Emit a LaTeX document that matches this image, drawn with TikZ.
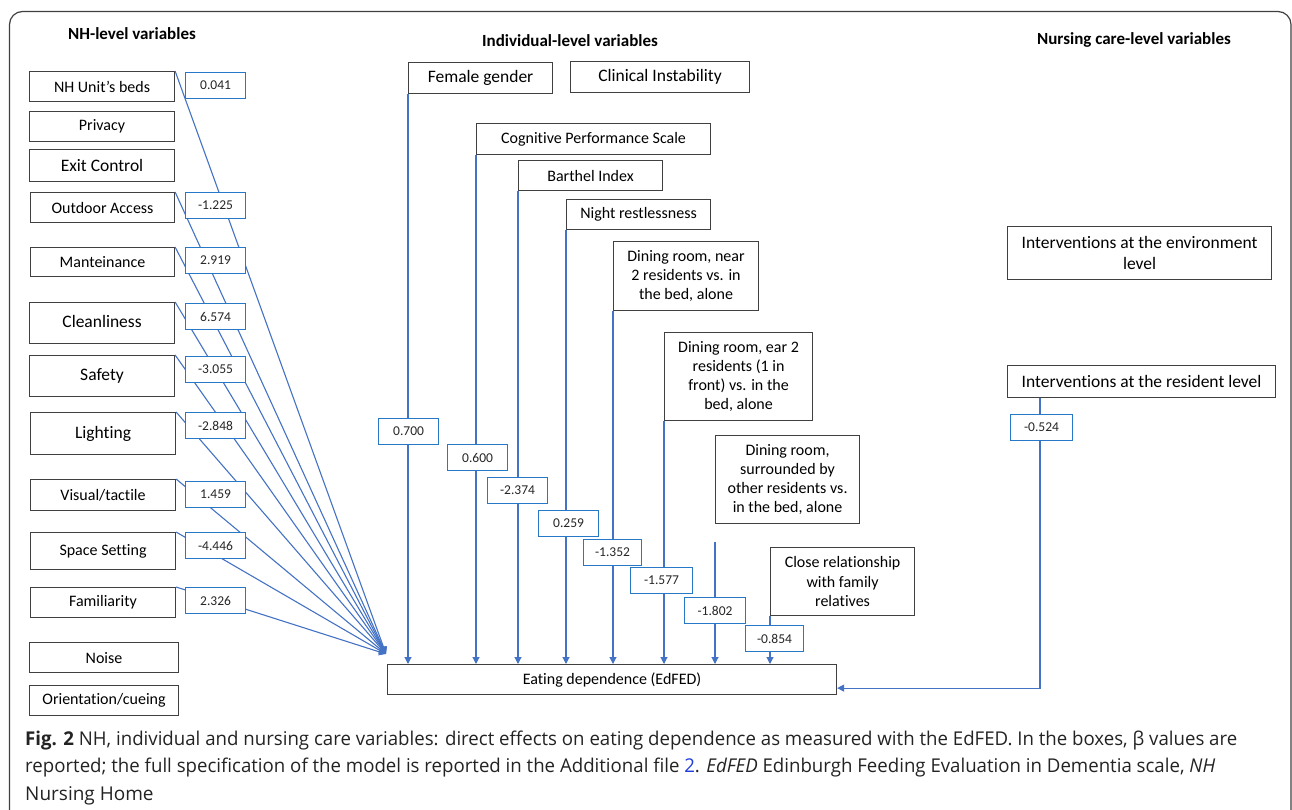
\documentclass[tikz,border=0pt]{standalone}
\usepackage{fontspec}
\usepackage{graphicx}
\setmainfont{Carlito}[Ligatures=NoCommon]
\newfontfamily\capfont{Open Sans}
\usetikzlibrary{arrows.meta,calc}
\definecolor{boxline}{RGB}{64,64,64}
\definecolor{valline}{RGB}{40,120,200}
\definecolor{conncol}{RGB}{68,114,196}
\definecolor{linkblue}{RGB}{30,60,220}
\definecolor{captext}{RGB}{35,35,35}
\newcommand\bx[5]{\node[vbox,anchor=north west,minimum width=#3pt,minimum height=#4pt] (#1) at (#2) {#5};}
\newcommand\bxb[5]{\node[vbox,bigtxt,anchor=north west,minimum width=#3pt,minimum height=#4pt] (#1) at (#2) {#5};}
\newcommand\vb[4]{\node[valbox,minimum width=#3pt] (#1) at (#2) {#4};}
\begin{document}
\begin{tikzpicture}[x=1pt,y=-1pt,
  vbox/.style={draw=boxline,line width=1.1pt,fill=white,inner sep=0pt,font=\fontsize{16}{19.3}\selectfont,align=center,text=black},
  bigtxt/.style={font=\fontsize{17.5}{21}\selectfont},
  valbox/.style={draw=valline,line width=1.1pt,fill=white,inner sep=0pt,font=\fontsize{13.5}{16}\selectfont,minimum height=26pt,anchor=north west,text=black!85},
  arr/.style={draw=conncol,line width=1.1pt,-{Triangle[width=7pt,length=7pt]}},
  head/.style={font=\fontsize{17}{20}\selectfont\bfseries,anchor=base,inner sep=0pt},
  capline/.style={anchor=base west,inner sep=0pt,text=captext,font=\capfont\fontsize{19}{22}\selectfont}
]
\useasboundingbox (0,0) rectangle (1292,810);
\draw[boxline,line width=1.2pt,rounded corners=13pt] (9.5,810) -- (9.5,11.5) -- (1291,11.5) -- (1291,810);

% headings
\node[head] (hnh) at (132,40) {NH-level variables};
\node[head] (hind) at (570,47) {Individual-level variables};
\node[head] (hnc) at (1134,45) {Nursing care-level variables};

% NH-level boxes
\bx{beds}{29,71}{145}{30}{NH Unit’s beds}
\bx{privacy}{29,111}{145}{30}{Privacy}
\bxb{exit}{29,149}{145}{32}{Exit Control}
\bx{outdoor}{30,192}{144}{30}{Outdoor Access}
\bx{mant}{30,247}{144}{29}{Manteinance}
\bxb{clean}{29,302}{145}{41}{\raisebox{3pt}{Cleanliness}}
\bxb{safety}{29,355}{145}{41}{\raisebox{3pt}{Safety}}
\bxb{light}{30,412}{145}{42}{\raisebox{-4pt}{Lighting}}
\bx{visual}{30,479}{145}{31}{Visual/tactile}
\bx{space}{30,532}{145}{37}{Space Setting}
\bx{famil}{30,587}{145}{30}{Familiarity}
\bx{noise}{29,642}{149}{30}{Noise}
\bx{orient}{29,685}{149}{30}{Orientation/cueing}

% outcome
\bx{edfed}{387,664}{449}{30}{Eating dependence (EdFED)}
\coordinate (conv) at ($(edfed.north west)+(-1,-10)$);

% individual-level boxes
\bxb{female}{408,62}{144}{31}{Female gender}
\bxb{clinical}{570,61}{179}{31}{Clinical Instability}
\bx{cps}{476,123}{234}{31}{Cognitive Performance Scale}
\bx{barthel}{518,160}{144}{30}{Barthel Index}
\bx{night}{566,199}{144}{30}{Night restlessness}
\bx{dnear}{613,241}{145}{69}{Dining room, near\\2 residents vs. in\\the bed, alone}
\bx{dear}{664,332}{148}{88}{Dining room, ear 2\\residents (1 in\\front) vs. in the\\bed, alone}
\bx{dsurr}{715,435}{144}{88}{Dining room,\\surrounded by\\other residents vs.\\in the bed, alone}
\bx{close}{770,547}{144}{68}{Close relationship\\with family\\relatives}

% nursing care-level boxes
\bxb{env}{1007,226}{264}{53}{Interventions at the environment\\level}
\bxb{res}{1007,365}{268}{32}{Interventions at the resident level}

% connectors NH-level
\foreach \n in {beds,outdoor,mant,clean,safety,light,visual,space,famil}
  \draw[arr] (\n.north east) -- (conv);

% connectors individual-level
\foreach \n in {female,cps,barthel,night,dnear,dear,close}
  \draw[arr] (\n.south west) -- (\n.south west |- edfed.north);
\coordinate (sstart) at ($(dsurr.south west)+(0,18)$);
\draw[arr] (sstart) -- (sstart |- edfed.north);

% connector nursing care
\coordinate (rout) at ($(res.south west)+(33,0)$);
\coordinate (rin) at ($(edfed.south east)+(0,-7)$);
\draw[arr] (rout) |- (rin);

% value boxes
\vb{v1}{185,72}{60}{0.041}
\vb{v2}{185,192}{60}{-1.225}
\vb{v3}{185,247}{60}{2.919}
\vb{v4}{185,303}{60}{6.574}
\vb{v5}{185,356}{60}{-3.055}
\vb{v6}{185,412}{60}{-2.848}
\vb{v7}{185,481}{60}{1.459}
\vb{v8}{185,532}{60}{-4.446}
\vb{v9}{185,587}{60}{2.326}

\vb{i1}{378,418}{60}{0.700}
\vb{i2}{447,444}{60}{0.600}
\vb{i3}{487,477}{60}{-2.374}
\vb{i4}{538,510}{60}{0.259}
\vb{i5}{583,539}{58}{-1.352}
\vb{i6}{630,567}{62}{-1.577}
\vb{i7}{684,597}{61}{-1.802}
\vb{i8}{745,625}{58}{-0.854}

\vb{n1}{1010,414}{62}{-0.524}

% caption
\node[capline] (cap1) at (25,745) {\resizebox{1212pt}{\height}{\textbf{Fig. 2} NH, individual and nursing care variables: direct effects on eating dependence as measured with the EdFED. In the boxes, β values are}};
\node[capline] (cap2) at (25,772) {\resizebox{1190pt}{\height}{reported; the full specification of the model is reported in the Additional file {\color{linkblue}2}. \textit{EdFED} Edinburgh Feeding Evaluation in Dementia scale, \textit{NH}}};
\node[capline] (cap3) at (25,800) {Nursing Home};
\end{tikzpicture}
\end{document}
